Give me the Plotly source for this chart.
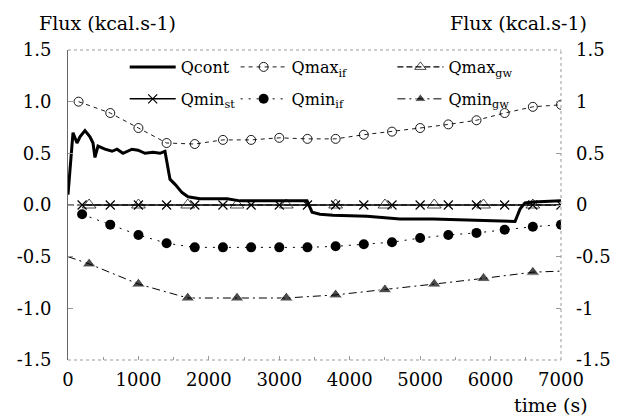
import plotly.graph_objects as go

# ---- data ----
qcont_t = [0, 71, 128, 170, 241, 312, 355, 383, 426, 525, 625, 696, 781, 909, 994, 1093,
           1207, 1306, 1377, 1406, 1448, 1520, 1620, 1704, 1874, 2258, 2442, 3053, 3394,
           3465, 3578, 3763, 4246, 4714, 5183, 5666, 6134, 6347, 6418, 6489, 6603, 7000]
qcont_v = [0.10, 0.70, 0.60, 0.66, 0.72, 0.66, 0.60, 0.46, 0.57, 0.54, 0.52, 0.54, 0.50,
           0.54, 0.53, 0.50, 0.51, 0.50, 0.52, 0.40, 0.25, 0.20, 0.12, 0.08, 0.06, 0.06,
           0.04, 0.04, 0.04, -0.07, -0.09, -0.10, -0.11, -0.135, -0.135, -0.145, -0.16,
           -0.16, -0.04, 0.02, 0.03, 0.04]

grid400_t = [200, 600, 1000, 1400, 1800, 2200, 2600, 3000, 3400, 3800, 4200, 4600, 5000,
             5400, 5800, 6200, 6600, 7000]
qmax_if_t = [150, 600, 1000, 1400, 1800, 2200, 2600, 3000, 3400, 3800, 4200, 4600, 5000,
             5400, 5800, 6200, 6600, 7000]
qmax_if_v = [1.00, 0.89, 0.745, 0.60, 0.59, 0.63, 0.63, 0.65, 0.64, 0.64, 0.68, 0.71,
             0.745, 0.78, 0.82, 0.89, 0.95, 0.97]
qmin_if_v = [-0.09, -0.19, -0.29, -0.37, -0.41, -0.41, -0.41, -0.41, -0.41, -0.40, -0.38,
             -0.36, -0.32, -0.29, -0.27, -0.24, -0.21, -0.19]
qmin_st_v = [0.0] * 18

grid700_t = [0, 300, 1000, 1700, 2400, 3100, 3800, 4500, 5200, 5900, 6600, 7000]
qmin_gw_v = [-0.50, -0.57, -0.765, -0.90, -0.90, -0.90, -0.87, -0.82, -0.765, -0.71, -0.65, -0.64]
qmax_gw_v = [0.0] * 12
gw_marker_shown = [0, 1, 1, 1, 1, 1, 1, 1, 1, 1, 1, 0]

y_ticks = [-1.5, -1.0, -0.5, 0.0, 0.5, 1.0, 1.5]
y_left_text = ["-1.5", "-1.0", "-0.5", "0.0", "0.5", "1.0", "1.5"]
y_right_text = ["-1.5", "-1", "-0.5", "0", "0.5", "1", "1.5"]
x_ticks = [0, 1000, 2000, 3000, 4000, 5000, 6000, 7000]

FONT = "DejaVu Serif"
BLACK = "#000000"
gw_sizes = [12 * s for s in gw_marker_shown]

fig = go.Figure()

fig.add_trace(go.Scatter(
    x=grid400_t, y=qmin_st_v, name="Qmin<sub>st</sub>", mode="lines+markers",
    line=dict(color=BLACK, width=1.5),
    marker=dict(symbol="x-thin-open", size=9, line=dict(color=BLACK, width=1.2)),
    legend="legend4"))
fig.add_trace(go.Scatter(
    x=grid700_t, y=qmax_gw_v, name="Qmax<sub>gw</sub>", mode="lines+markers",
    line=dict(color=BLACK, width=1.2, dash="6px,3px"),
    marker=dict(symbol="triangle-up-open", size=gw_sizes, line=dict(color=BLACK, width=1)),
    legend="legend3"))
fig.add_trace(go.Scatter(
    x=qcont_t, y=qcont_v, name="Qcont", mode="lines",
    line=dict(color=BLACK, width=3),
    legend="legend"))
fig.add_trace(go.Scatter(
    x=qmax_if_t, y=qmax_if_v, name="Qmax<sub>if</sub>", mode="lines+markers",
    line=dict(color=BLACK, width=0.9, dash="4px,4px"),
    marker=dict(symbol="circle-open", size=9, line=dict(color=BLACK, width=0.9)),
    legend="legend2"))
fig.add_trace(go.Scatter(
    x=grid400_t, y=qmin_if_v, name="Qmin<sub>if</sub>", mode="lines+markers",
    line=dict(color=BLACK, width=1, dash="2px,6px"),
    marker=dict(symbol="circle", size=10, color=BLACK),
    legend="legend5"))
fig.add_trace(go.Scatter(
    x=grid700_t, y=qmin_gw_v, name="Qmin<sub>gw</sub>", mode="lines+markers",
    line=dict(color=BLACK, width=1, dash="8px,4px,2px,4px"),
    marker=dict(symbol="triangle-up", size=gw_sizes, color=BLACK),
    legend="legend6"))
# invisible trace to activate right axis
fig.add_trace(go.Scatter(x=[0], y=[0], yaxis="y2", mode="markers",
                         marker=dict(opacity=0), showlegend=False, hoverinfo="skip"))

legend_common = dict(font=dict(family=FONT, size=16, color=BLACK), bgcolor="rgba(0,0,0,0)",
                     orientation="v", xanchor="left", yanchor="top", itemwidth=46)
row1_y = 1.0
row2_y = 0.897
col_x = [0.115, 0.34, 0.658]

fig.update_layout(
    width=622, height=416,
    margin=dict(l=68, r=61, t=50, b=56),
    paper_bgcolor="white", plot_bgcolor="white",
    font=dict(family=FONT, size=18, color=BLACK),
    showlegend=True,
    legend=dict(x=col_x[0], y=row1_y, **legend_common),
    legend2=dict(x=col_x[1], y=row1_y, **legend_common),
    legend3=dict(x=col_x[2], y=row1_y, **legend_common),
    legend4=dict(x=col_x[0], y=row2_y, **legend_common),
    legend5=dict(x=col_x[1], y=row2_y, **legend_common),
    legend6=dict(x=col_x[2], y=row2_y, **legend_common),
    xaxis=dict(range=[0, 7000], tickvals=x_ticks, ticks="inside", ticklen=4,
               tickcolor="#999999", showgrid=False, zeroline=False, showline=False,
               ticklabelstandoff=7,
               minor=dict(dtick=500, ticks="inside", ticklen=3, tickcolor="#999999")),
    yaxis=dict(range=[-1.5, 1.5], tickvals=y_ticks, ticktext=y_left_text, ticks="inside",
               ticklen=5, tickcolor="#999999", showgrid=False, zeroline=False,
               showline=True, linecolor="#666666", linewidth=1, ticklabelstandoff=12),
    yaxis2=dict(range=[-1.5, 1.5], overlaying="y", side="right", tickvals=y_ticks,
                ticktext=y_right_text, ticks="inside", ticklen=5, tickcolor="#999999",
                showgrid=False, zeroline=False, showline=False, ticklabelstandoff=14),
    shapes=[
        dict(type="line", xref="paper", yref="paper", x0=0, x1=1, y0=1, y1=1,
             line=dict(color="#999999", width=1, dash="dot")),
        dict(type="line", xref="paper", yref="paper", x0=1, x1=1, y0=0, y1=1,
             line=dict(color="#999999", width=1, dash="dot")),
        dict(type="line", xref="paper", yref="paper", x0=0, x1=1, y0=0, y1=0,
             line=dict(color="#999999", width=1, dash="dot")),
    ],
    annotations=[
        dict(text="Flux (kcal.s-1)", xref="paper", yref="paper", x=-0.062, y=1.0,
             yshift=27, xanchor="left", yanchor="middle", showarrow=False,
             font=dict(family=FONT, size=19, color=BLACK)),
        dict(text="Flux (kcal.s-1)", xref="paper", yref="paper", x=1.057, y=1.0,
             yshift=27, xanchor="right", yanchor="middle", showarrow=False,
             font=dict(family=FONT, size=19, color=BLACK)),
        dict(text="time (s)", xref="paper", yref="paper", x=0.98, y=0, yshift=-45,
             xanchor="center", yanchor="middle", showarrow=False,
             font=dict(family=FONT, size=19, color=BLACK)),
    ],
)

fig.write_html("out.html")
